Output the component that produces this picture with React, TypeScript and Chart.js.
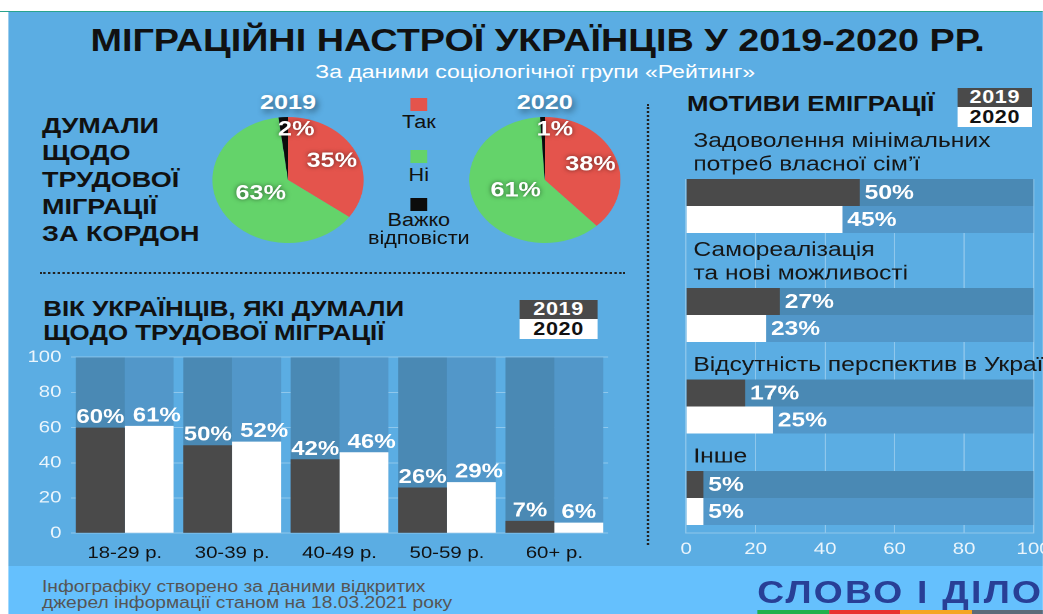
import React, { useEffect, useRef } from "react";
import { Chart, registerables } from "chart.js";

Chart.register(...registerables);

// ---------- data ----------
const SERIES = ["2019", "2020"];

const PIE_LABELS = ["Так", "Ні", "Важко відповісти"];
const PIE_2019 = [35, 63, 2];
const PIE_2020 = [38, 61, 1];

const AGE_GROUPS = ["18-29 р.", "30-39 р.", "40-49 р.", "50-59 р.", "60+ р."];
const AGE_2019 = [60, 50, 42, 26, 7];
const AGE_2020 = [61, 52, 46, 29, 6];

const MOTIVES = [
  ["Задоволення мінімальних", "потреб власної сім’ї"],
  ["Самореалізація", "та нові можливості"],
  ["Відсутність перспектив в Україні"],
  ["Інше"],
];
const MOTIVE_2019 = [50, 27, 17, 5];
const MOTIVE_2020 = [45, 23, 25, 5];

const SCALE_MAX = 100;
const TICK_STEP = 20;

// ---------- style ----------
const FONT = "'Liberation Sans', Arial, Helvetica, sans-serif";
const SX = 1.2;
const W = 1043 / SX;
const BLUE = "#5badE3";
const FOOTER_BLUE = "#65c0fd";
const PIE_COLORS = ["#e4544c", "#64d36a", "#0c0c0c"];
const DARK = "#4a4a4a";
const LIGHT = "#ffffff";
const BAND_DARK = "#4a89b4";
const BAND_LIGHT = "#5297c9";
const GRID = "rgba(255,255,255,0.32)";
const TICK = "rgba(255,255,255,0.88)";

// Row layout of the motive chart: each bar pair block is PAIR_UNITS label-lines tall,
// and every category's caption lines add one unit above its pair.
const PAIR_UNITS = 4.23;
const ROW_POS = MOTIVES.map((_, i) =>
  MOTIVES.slice(1, i + 1).reduce((s, m) => s + PAIR_UNITS + m.length, 0)
);

// ---------- plugins ----------
const pieLabelPlugin = {
  id: "pieLabels",
  afterDatasetsDraw(chart: any) {
    const ctx = chart.ctx;
    const meta = chart.getDatasetMeta(0);
    const vals = chart.data.datasets[0].data;
    ctx.save();
    ctx.font = `bold 21px ${FONT}`;
    ctx.fillStyle = "#fff";
    ctx.textAlign = "center";
    ctx.textBaseline = "middle";
    ctx.shadowColor = "rgba(0,0,0,0.55)";
    ctx.shadowBlur = 8;
    meta.data.forEach((arc: any, i: number) => {
      const p = arc.getProps(["x", "y", "startAngle", "endAngle", "outerRadius"], true);
      const v = vals[i];
      const frac = v < 5 ? 0.8 : v > 50 ? 0.42 : 0.65;
      const mid = (p.startAngle + p.endAngle) / 2;
      let tx = p.x + Math.cos(mid) * p.outerRadius * frac;
      const ty = p.y + Math.sin(mid) * p.outerRadius * frac;
      if (v < 5) tx += 10;
      ctx.fillText(`${v}%`, tx, ty);
    });
    ctx.restore();
  },
};

const columnLabelPlugin = {
  id: "columnLabels",
  afterDatasetsDraw(chart: any) {
    const ctx = chart.ctx;
    const m0 = chart.getDatasetMeta(0);
    const m1 = chart.getDatasetMeta(1);
    const d0 = chart.data.datasets[0].data;
    const d1 = chart.data.datasets[1].data;
    ctx.save();
    ctx.font = `bold 20px ${FONT}`;
    ctx.fillStyle = "#fff";
    ctx.textAlign = "left";
    ctx.textBaseline = "middle";
    m0.data.forEach((b0: any, i: number) => {
      const b1 = m1.data[i];
      const t0 = `${d0[i]}%`;
      const t1 = `${d1[i]}%`;
      const w0 = ctx.measureText(t0).width;
      const w1 = ctx.measureText(t1).width;
      const l0 = b0.x - w0 / 2;
      const l1 = Math.max(b1.x - w1 / 2, l0 + w0 + 7);
      ctx.fillText(t0, l0, b0.y - 10);
      ctx.fillText(t1, l1, b1.y - 10);
    });
    ctx.restore();
  },
};

const rowLabelPlugin = {
  id: "rowLabels",
  afterDatasetsDraw(chart: any) {
    const ctx = chart.ctx;
    const area = chart.chartArea;
    const m0 = chart.getDatasetMeta(0);
    const m1 = chart.getDatasetMeta(1);
    ctx.save();
    ctx.textAlign = "left";
    ctx.textBaseline = "middle";
    ctx.font = `bold 20.5px ${FONT}`;
    ctx.fillStyle = "#fff";
    m0.data.forEach((b: any, i: number) => ctx.fillText(`${MOTIVE_2019[i]}%`, b.x + 4, b.y + 1));
    m1.data.forEach((b: any, i: number) => ctx.fillText(`${MOTIVE_2020[i]}%`, b.x + 4, b.y + 1));
    ctx.font = `20.5px ${FONT}`;
    ctx.fillStyle = "#161616";
    m0.data.forEach((b: any, i: number) => {
      const top = b.y - b.height / 2;
      const lines = MOTIVES[i];
      lines.forEach((line, k) => {
        ctx.fillText(line, area.left + 6, top - 14 - (lines.length - 1 - k) * 23.5);
      });
    });
    ctx.restore();
  },
};

// ---------- chart factories ----------
const makePie = (values: number[]) => (canvas: HTMLCanvasElement) =>
  new Chart(canvas, {
    type: "pie",
    data: {
      labels: PIE_LABELS,
      datasets: [{ data: values, backgroundColor: PIE_COLORS, borderWidth: 0 }],
    },
    options: {
      animation: false,
      responsive: true,
      maintainAspectRatio: false,
      devicePixelRatio: 2,
      layout: { padding: 12 },
      plugins: { legend: { display: false }, tooltip: { enabled: false } },
    },
    plugins: [pieLabelPlugin],
  });

const makeAgeChart = (canvas: HTMLCanvasElement) =>
  new Chart(canvas, {
    type: "bar",
    data: {
      labels: AGE_GROUPS,
      datasets: [
        { label: SERIES[0], data: AGE_2019, backgroundColor: DARK, stack: "a", order: 0 },
        { label: SERIES[1], data: AGE_2020, backgroundColor: LIGHT, stack: "b", order: 0 },
        { label: "band-a", data: AGE_GROUPS.map(() => SCALE_MAX), backgroundColor: BAND_DARK, stack: "a", order: 1 },
        { label: "band-b", data: AGE_GROUPS.map(() => SCALE_MAX), backgroundColor: BAND_LIGHT, stack: "b", order: 1 },
      ],
    },
    options: {
      animation: false,
      responsive: true,
      maintainAspectRatio: false,
      devicePixelRatio: 2,
      layout: { padding: { top: 0, right: 8.3, left: 0, bottom: 0 } },
      datasets: { bar: { categoryPercentage: 0.91, barPercentage: 1, borderWidth: 0 } } as any,
      scales: {
        x: {
          grid: { display: false },
          border: { display: false },
          ticks: { color: "#111", font: { family: FONT, size: 17 }, padding: 2 },
          afterFit: (s: any) => { s.height = 32; },
        },
        y: {
          stacked: false,
          min: 0,
          max: SCALE_MAX,
          ticks: { stepSize: TICK_STEP, color: TICK, font: { family: FONT, size: 17 }, padding: 8 },
          grid: { color: GRID, drawTicks: false },
          border: { display: false },
          afterFit: (s: any) => { s.width = 59.2; },
        },
      },
      plugins: { legend: { display: false }, tooltip: { enabled: false } },
    },
    plugins: [columnLabelPlugin],
  });

const rows = (vals: number[]) => vals.map((v, i) => ({ x: v, y: ROW_POS[i] }));

const makeMotiveChart = (canvas: HTMLCanvasElement) =>
  new Chart(canvas, {
    type: "bar",
    data: {
      datasets: [
        { label: SERIES[0], data: rows(MOTIVE_2019), backgroundColor: DARK, stack: "a", order: 0 },
        { label: SERIES[1], data: rows(MOTIVE_2020), backgroundColor: LIGHT, stack: "b", order: 0 },
        { label: "band-a", data: rows(MOTIVES.map(() => SCALE_MAX)), backgroundColor: BAND_DARK, stack: "a", order: 1 },
        { label: "band-b", data: rows(MOTIVES.map(() => SCALE_MAX)), backgroundColor: BAND_LIGHT, stack: "b", order: 1 },
      ],
    },
    options: {
      indexAxis: "y",
      animation: false,
      responsive: true,
      maintainAspectRatio: false,
      devicePixelRatio: 2,
      layout: { padding: { top: 54, right: 21, left: 26.7, bottom: 0 } },
      datasets: { bar: { categoryPercentage: 0.59, barPercentage: 1, borderWidth: 0 } } as any,
      scales: {
        y: {
          type: "linear",
          display: false,
          offset: false,
          reverse: true,
          min: -1.543,
          max: 18.69,
          afterBuildTicks: (s: any) => {
            s.ticks = ROW_POS.map((v) => ({ value: v }));
          },
        },
        x: {
          stacked: false,
          min: 0,
          max: SCALE_MAX,
          ticks: { stepSize: TICK_STEP, color: TICK, font: { family: FONT, size: 17 }, padding: 6 },
          grid: { color: GRID, drawTicks: false },
          border: { display: true, color: GRID },
          afterFit: (s: any) => { s.height = 32; },
        },
      },
      plugins: { legend: { display: false }, tooltip: { enabled: false } },
    },
    plugins: [rowLabelPlugin],
  } as any);

// ---------- components ----------
function ChartBox(props: { left: number; top: number; width: number; height: number; make: (c: HTMLCanvasElement) => Chart }) {
  const ref = useRef<HTMLCanvasElement>(null);
  useEffect(() => {
    const chart = props.make(ref.current as HTMLCanvasElement);
    return () => chart.destroy();
  }, []);
  return (
    <div style={{ position: "absolute", left: props.left, top: props.top, width: props.width, height: props.height }}>
      <canvas ref={ref} />
    </div>
  );
}

function Txt(p: { x: number; y: number; size: number; text: string; bold?: boolean; color?: string; center?: boolean; ls?: number; shadow?: string }) {
  return (
    <div
      style={{
        position: "absolute",
        left: p.x,
        top: p.y - 0.49 * p.size,
        fontFamily: FONT,
        fontSize: p.size,
        fontWeight: p.bold ? 700 : 400,
        color: p.color || "#111",
        lineHeight: `${p.size}px`,
        whiteSpace: "nowrap",
        letterSpacing: p.ls || 0,
        transform: p.center ? "translateX(-50%)" : undefined,
        textShadow: p.shadow,
      }}
    >
      {p.text}
    </div>
  );
}

function YearBoxes(p: { x: number; y: number; w: number; h1: number; h2: number; size: number }) {
  const common = {
    fontFamily: FONT,
    fontWeight: 700,
    fontSize: p.size,
    textAlign: "center" as const,
    letterSpacing: 0.5,
  };
  return (
    <div style={{ position: "absolute", left: p.x, top: p.y, width: p.w }}>
      <div style={{ ...common, background: DARK, color: "#fff", height: p.h1, lineHeight: `${p.h1}px` }}>{SERIES[0]}</div>
      <div style={{ ...common, background: LIGHT, color: "#111", height: p.h2, lineHeight: `${p.h2}px` }}>{SERIES[1]}</div>
    </div>
  );
}

const pieLegendY = [104.5, 156, 204];
const pieLegendText = [[122], [175], [220, 238]];

export default function App() {
  const legendWords = [["Так"], ["Ні"], ["Важко", "відповісти"]];
  return (
    <div style={{ position: "fixed", left: 0, top: 0, width: 1043, height: 614, overflow: "hidden", background: "#fff" }}>
      <div style={{ position: "absolute", left: 0, top: 0, width: W, height: 614, transform: `scaleX(${SX})`, transformOrigin: "0 0" }}>
        <div style={{ position: "absolute", left: 0, top: 10.5, width: W, height: 1.5, background: "#2aa38e" }} />
        <div style={{ position: "absolute", left: 6.7, top: 12, width: W - 6.7, height: 554, background: BLUE }} />
        <div style={{ position: "absolute", left: 6.7, top: 566, width: W - 6.7, height: 48, background: FOOTER_BLUE }} />

        <Txt x={448} y={40} size={31.5} bold center text="МІГРАЦІЙНІ НАСТРОЇ УКРАЇНЦІВ У 2019-2020 РР." />
        <Txt x={446} y={71} size={19.2} color="#fff" center text="За даними соціологічної групи «Рейтинг»" />

        {["ДУМАЛИ", "ЩОДО", "ТРУДОВОЇ", "МІГРАЦІЇ", "ЗА КОРДОН"].map((t, i) => (
          <Txt key={t} x={35} y={126.5 + i * 27} size={22.5} bold text={t} />
        ))}

        <Txt x={240} y={101.5} size={21} bold color="#fff" center text={SERIES[0]} shadow="2px 3px 6px rgba(0,0,0,0.45)" />
        <Txt x={454} y={101.5} size={21} bold color="#fff" center text={SERIES[1]} shadow="2px 3px 6px rgba(0,0,0,0.45)" />
        <ChartBox left={165} top={105} width={150} height={150} make={makePie(PIE_2019)} />
        <ChartBox left={379} top={105} width={150} height={150} make={makePie(PIE_2020)} />

        {PIE_COLORS.map((c, i) => (
          <div key={c} style={{ position: "absolute", left: 349 - 6.6, top: pieLegendY[i] - 6.5, width: 13.3, height: 13, background: c }} />
        ))}
        {legendWords.map((words, i) =>
          words.map((w, k) => <Txt key={w} x={349} y={pieLegendText[i][k]} size={18} center text={w} />)
        )}

        <div style={{ position: "absolute", left: 33, top: 272, width: 488, height: 0, borderTop: "2px dotted #222" }} />
        <div style={{ position: "absolute", left: 538.5, top: 104, width: 0, height: 441, borderLeft: "2px dotted #222" }} />

        <Txt x={36} y={309} size={21.6} bold text="ВІК УКРАЇНЦІВ, ЯКІ ДУМАЛИ" />
        <Txt x={36} y={333} size={21.6} bold text="ЩОДО ТРУДОВОЇ МІГРАЦІЇ" />
        <YearBoxes x={433} y={300} w={65} h1={19} h2={20} size={18} />
        <ChartBox left={0} top={338.8} width={515} height={226.2} make={makeAgeChart} />

        <Txt x={572.5} y={104.5} size={21.5} bold text="МОТИВИ ЕМІГРАЦІЇ" />
        <YearBoxes x={798} y={88} w={62} h1={19} h2={20} size={18} />
        <ChartBox left={545} top={125} width={336.8} height={440} make={makeMotiveChart} />

        <Txt x={35} y={587} size={16} color="#555" text="Інфографіку створено за даними відкритих" />
        <Txt x={35} y={603} size={16} color="#555" text="джерел інформації станом на 18.03.2021 року" />

        <Txt x={631} y={592} size={31} bold color="#283f96" ls={1.9} text="СЛОВО І ДІЛО" />
        {["#21b04b", "#e8312f", "#f5a623", "#5c6b7a"].map((c, i) => (
          <div key={c} style={{ position: "absolute", left: 631 + i * 59.6, top: 610, width: 59.6, height: 4, background: c }} />
        ))}
      </div>
    </div>
  );
}
